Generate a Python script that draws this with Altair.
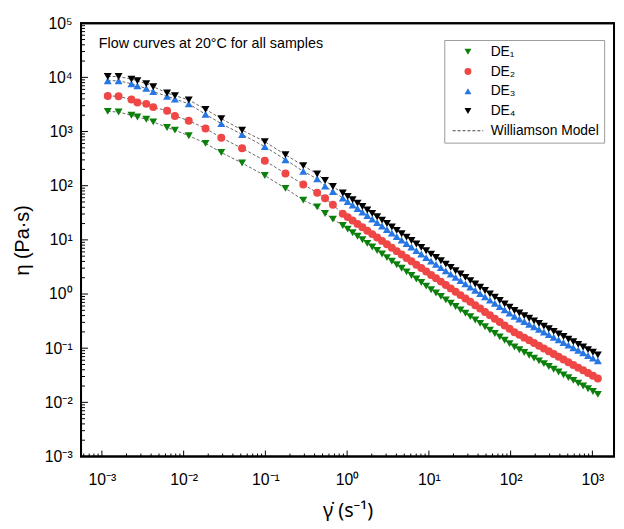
import json
import altair as alt
import pandas as pd

# ---------------- data ----------------
SHEAR_RATE = [
    0.00118, 0.00160, 0.00230, 0.00272, 0.00349, 0.00425, 0.00627, 0.00783,
    0.01156, 0.01854, 0.0289, 0.0519, 0.0984, 0.176, 0.291, 0.430, 0.537, 0.67,
    0.885, 1.016, 1.167, 1.340, 1.538, 1.766, 2.028, 2.328, 2.673, 3.069,
    3.524, 4.046, 4.645, 5.333, 6.124, 7.031, 8.072, 9.268, 10.64, 12.22,
    14.03, 16.11, 18.49, 21.23, 24.38, 27.99, 32.14, 36.90, 42.36, 48.64,
    55.85, 64.12, 73.62, 84.53, 97.05, 111.4, 127.9, 146.9, 168.7, 193.6,
    222.3, 255.3, 293.1, 336.5, 386.4, 443.6, 509.3, 584.8, 671.4, 770.9,
    885.1, 1016, 1167,
]

# log10 of viscosity (Pa·s)
LOG_ETA_DE1 = [
    3.373, 3.360, 3.300, 3.269, 3.227, 3.178, 3.074, 3.026, 2.923, 2.782,
    2.613, 2.418, 2.188, 1.951, 1.733, 1.610, 1.488, 1.383,
    1.264, 1.198, 1.132, 1.067, 1.001, 0.935, 0.869, 0.804, 0.738, 0.672,
    0.606, 0.540, 0.475, 0.409, 0.343, 0.277, 0.212, 0.146, 0.080, 0.018,
    -0.044, -0.107, -0.169, -0.231, -0.293, -0.355, -0.418, -0.480, -0.542,
    -0.604, -0.666, -0.729, -0.791, -0.853, -0.915, -0.977, -1.028, -1.080,
    -1.131, -1.183, -1.234, -1.286, -1.337, -1.389, -1.440, -1.492, -1.543,
    -1.595, -1.646, -1.698, -1.749, -1.800, -1.852,
]
LOG_ETA_DE2 = [
    3.657, 3.651, 3.591, 3.537, 3.511, 3.451, 3.384, 3.287, 3.201, 3.056,
    2.886, 2.691, 2.462, 2.225, 2.024, 1.871, 1.769, 1.647,
    1.483, 1.420, 1.357, 1.295, 1.232, 1.169, 1.106, 1.044, 0.981, 0.918,
    0.855, 0.792, 0.730, 0.667, 0.604, 0.541, 0.479, 0.416, 0.353, 0.291,
    0.229, 0.166, 0.104, 0.042, -0.020, -0.082, -0.144, -0.207, -0.269,
    -0.331, -0.393, -0.455, -0.518, -0.580, -0.642, -0.704, -0.754, -0.805,
    -0.855, -0.906, -0.956, -1.006, -1.057, -1.107, -1.158, -1.208, -1.258,
    -1.309, -1.359, -1.409, -1.460, -1.510, -1.560,
]
LOG_ETA_DE3 = [
    3.938, 3.938, 3.883, 3.846, 3.797, 3.737, 3.651, 3.602, 3.511, 3.318,
    3.147, 2.946, 2.722, 2.480, 2.266, 2.126, 1.993, 1.893,
    1.774, 1.709, 1.644, 1.580, 1.515, 1.450, 1.385, 1.321, 1.256, 1.191,
    1.126, 1.061, 0.997, 0.932, 0.867, 0.802, 0.738, 0.673, 0.608, 0.548,
    0.488, 0.428, 0.368, 0.308, 0.248, 0.188, 0.128, 0.068, 0.008,
    -0.052, -0.112, -0.172, -0.232, -0.292, -0.352, -0.412, -0.460, -0.508,
    -0.557, -0.605, -0.653, -0.701, -0.750, -0.798, -0.846, -0.894, -0.943,
    -0.991, -1.039, -1.087, -1.135, -1.184, -1.232,
]
LOG_ETA_DE4 = [
    4.016, 4.016, 3.967, 3.938, 3.883, 3.828, 3.712, 3.664, 3.584, 3.409,
    3.238, 3.026, 2.813, 2.571, 2.370, 2.217, 2.097, 1.984,
    1.866, 1.803, 1.740, 1.678, 1.615, 1.552, 1.489, 1.427, 1.364, 1.301,
    1.238, 1.175, 1.113, 1.050, 0.987, 0.924, 0.861, 0.799, 0.736, 0.675,
    0.614, 0.553, 0.492, 0.430, 0.369, 0.308, 0.247, 0.186, 0.125,
    0.064, 0.003, -0.058, -0.120, -0.181, -0.242, -0.303, -0.351, -0.399,
    -0.448, -0.496, -0.544, -0.592, -0.641, -0.689, -0.737, -0.785, -0.834,
    -0.882, -0.930, -0.978, -1.026, -1.075, -1.123,
]

SERIES = ["DE₁", "DE₂", "DE₃", "DE₄"]
MODEL_LABEL = "Williamson Model"
COLORS = ["#0b800b", "#ef4646", "#2677e3", "#000000", "#444444"]

X_TICKS = [1e-3, 1e-2, 1e-1, 1e0, 1e1, 1e2, 1e3]
X_TICK_LABELS = ["10⁻³", "10⁻²", "10⁻¹", "10⁰", "10¹", "10²", "10³"]
Y_TICKS = [1e-3, 1e-2, 1e-1, 1e0, 1e1, 1e2, 1e3, 1e4, 1e5]
Y_TICK_LABELS = ["10⁻³", "10⁻²", "10⁻¹", "10⁰", "10¹", "10²", "10³", "10⁴", "10⁵"]
MINOR_MANTISSAS = [2, 3, 4, 5, 6, 7, 8, 9]

ANNOTATION = "Flow curves at 20°C for all samples"
X_TITLE = "γ̇ (s⁻¹)"
Y_TITLE = "η (Pa·s)"

X_DOMAIN = [5.56e-4, 1.84e3]
Y_DOMAIN = [1e-3, 1e5]

# ---------------- build tables ----------------
rows = []
for name, logs in zip(SERIES, [LOG_ETA_DE1, LOG_ETA_DE2, LOG_ETA_DE3, LOG_ETA_DE4]):
    for rate, lg in zip(SHEAR_RATE, logs, strict=True):
        rows.append({"rate": rate, "eta": 10 ** lg, "series": name})
df = pd.DataFrame(rows)

minor_x = [m * t for t in [1e-4] + X_TICKS for m in MINOR_MANTISSAS]
minor_x = [v for v in minor_x if X_DOMAIN[0] <= v <= X_DOMAIN[1]]
minor_y = [m * t for t in Y_TICKS[:-1] for m in MINOR_MANTISSAS]

x_major_df = pd.DataFrame({"v": X_TICKS})
x_minor_df = pd.DataFrame({"v": minor_x})
y_major_df = pd.DataFrame({"v": Y_TICKS})
y_minor_df = pd.DataFrame({"v": minor_y})

FONT = "Liberation Sans"
TITLE_FONT = "Noto Sans"
W, H = 540, 439


def label_expr(labels, first_exp):
    return "%s[round(log(datum.value)/LN10)+(%d)]" % (
        json.dumps(labels, ensure_ascii=False), -first_exp)


x_scale = alt.Scale(type="log", domain=X_DOMAIN, nice=False)
y_scale = alt.Scale(type="log", domain=Y_DOMAIN, nice=False)

main_x_axis = alt.Axis(
    orient="bottom", values=X_TICKS, labelExpr=label_expr(X_TICK_LABELS, -3),
    ticks=False, domain=False, grid=False, labelFont=FONT, labelFontSize=16,
    labelColor="black", labelPadding=15, labelFlush=False, labelOverlap=False,
    title=X_TITLE, titleFont=TITLE_FONT, titleFontSize=20, titleFontWeight="normal",
    titleColor="black", titlePadding=14,
)
main_y_axis = alt.Axis(
    orient="left", values=Y_TICKS, labelExpr=label_expr(Y_TICK_LABELS, -3),
    ticks=False, domain=False, grid=False, labelFont=FONT, labelFontSize=16,
    labelColor="black", labelPadding=9, labelFlush=False, labelOverlap=False,
    title=Y_TITLE, titleFont=FONT, titleFontSize=20, titleFontWeight="normal",
    titleColor="black", titlePadding=12,
)


def X(field):
    return alt.X(field, scale=x_scale, axis=main_x_axis)


def Y(field):
    return alt.Y(field, scale=y_scale, axis=main_y_axis)


legend_domain = SERIES + [MODEL_LABEL]
dash_path = ("M-4.43,-0.15H-3.57V0.15H-4.43Z M-3,-0.15H-2.14V0.15H-3Z "
             "M-1.57,-0.15H-0.71V0.15H-1.57Z M-0.14,-0.15H0.72V0.15H-0.14Z "
             "M1.29,-0.15H2.15V0.15H1.29Z M2.72,-0.15H3.58V0.15H2.72Z "
             "M4.15,-0.15H4.43V0.15H4.15Z")
SHAPES = ["triangle-down", "circle", "triangle-up", "triangle-down", dash_path]

leg = alt.Legend(
    orient="none", legendX=368, legendY=17, title=None,
    strokeColor="#9a9a9a", fillColor="white", padding=5,
    labelFont=FONT, labelFontSize=14, labelColor="black",
    symbolSize=49, symbolStrokeWidth=0, symbolOffset=12,
    labelOffset=16, rowPadding=6,
)

lines = alt.Chart(df).mark_line(
    color="#555555", strokeDash=[3, 2], strokeWidth=0.9
).encode(x=X("rate:Q"), y=Y("eta:Q"), detail="series:N")

points = alt.Chart(df).mark_point(filled=True, size=65, opacity=1).encode(
    x=X("rate:Q"),
    y=Y("eta:Q"),
    color=alt.Color("series:N", scale=alt.Scale(domain=legend_domain, range=COLORS), legend=leg),
    shape=alt.Shape("series:N", scale=alt.Scale(domain=legend_domain, range=SHAPES), legend=leg),
)

# inward ticks, placed from the tick value lists through the scales
x_major = alt.Chart(x_major_df).mark_rule(color="black", strokeWidth=1).encode(
    x=X("v:Q"), y=alt.value(H), y2=alt.value(H - 6))
x_minor = alt.Chart(x_minor_df).mark_rule(color="black", strokeWidth=1).encode(
    x=X("v:Q"), y=alt.value(H), y2=alt.value(H - 3))
y_major = alt.Chart(y_major_df).mark_rule(color="black", strokeWidth=1).encode(
    y=Y("v:Q"), x=alt.value(0), x2=alt.value(7))
y_minor = alt.Chart(y_minor_df).mark_rule(color="black", strokeWidth=1).encode(
    y=Y("v:Q"), x=alt.value(0), x2=alt.value(4))

note = alt.Chart(pd.DataFrame({"t": [ANNOTATION]})).mark_text(
    align="left", baseline="middle", font=FONT, fontSize=14.5, color="black"
).encode(x=alt.value(18), y=alt.value(21), text="t:N")

frame = alt.Chart(pd.DataFrame({"f": [0]})).mark_rect(
    fill="transparent", stroke="black", strokeWidth=2
).encode(x=alt.value(0), x2=alt.value(W), y=alt.value(0), y2=alt.value(H))

chart = alt.layer(lines, points, x_major, x_minor, y_major, y_minor, note, frame).properties(
    width=W, height=H,
    padding={"left": 74, "top": 12, "right": 2, "bottom": 68},
    autosize=alt.AutoSizeParams(type="none"),
).configure_view(stroke="black", strokeWidth=2)

chart.save("out.html", embed_options={"renderer": "svg", "actions": False})
